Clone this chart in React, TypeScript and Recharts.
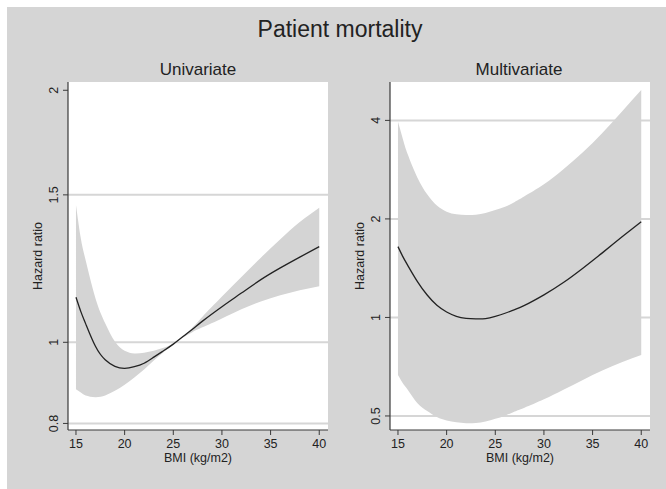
import { ComposedChart, Area, Line, XAxis, YAxis, CartesianGrid } from "recharts";

// BMI grid and hazard ratios
const bmi = [15, 15.5, 16, 17, 18, 19, 20, 21, 22, 23, 24, 25, 26, 27, 28, 30, 32, 34, 36, 38, 40];

const uniHR = [1.132, 1.088, 1.052, 0.989, 0.953, 0.936, 0.931, 0.935, 0.944, 0.96, 0.977, 0.995, 1.016, 1.037, 1.06, 1.103, 1.145, 1.188, 1.227, 1.264, 1.301];
const uniLo = [0.879, 0.871, 0.864, 0.86, 0.864, 0.875, 0.89, 0.908, 0.928, 0.951, 0.973, 0.994, 1.013, 1.029, 1.042, 1.068, 1.095, 1.119, 1.138, 1.154, 1.167];
const uniHi = [1.459, 1.33, 1.252, 1.129, 1.054, 1.002, 0.977, 0.97, 0.972, 0.977, 0.985, 0.997, 1.017, 1.042, 1.073, 1.134, 1.197, 1.262, 1.328, 1.392, 1.448];

const multiHR = [1.646, 1.534, 1.443, 1.287, 1.171, 1.089, 1.039, 1.008, 0.994, 0.99, 0.992, 1.008, 1.03, 1.057, 1.088, 1.172, 1.278, 1.414, 1.575, 1.76, 1.962];
const multiLo = [0.667, 0.629, 0.601, 0.547, 0.518, 0.496, 0.484, 0.478, 0.475, 0.476, 0.481, 0.49, 0.501, 0.516, 0.53, 0.562, 0.601, 0.644, 0.688, 0.73, 0.768];
const multiHi = [3.96, 3.509, 3.15, 2.673, 2.378, 2.196, 2.105, 2.066, 2.056, 2.06, 2.085, 2.13, 2.18, 2.253, 2.345, 2.551, 2.835, 3.195, 3.66, 4.253, 4.953];

const xTicks = [15, 20, 25, 30, 35, 40];
const uniTicks = [0.8, 1, 1.5, 2];
const uniGrid = [0.8, 1, 1.5];
const multiTicks = [0.5, 1, 2, 4];
const multiGrid = [0.5, 1, 2, 4];

const FONT = '"Liberation Sans", Arial, Helvetica, sans-serif';
const INK = "#222";
const AXIS = "#3a3a3a";
const BG = "#d5d5d5";
const BAND = "#d4d4d4";

function rows(hr: number[], lo: number[], hi: number[]) {
  return bmi.map((b, i) => ({ bmi: b, hr: hr[i], band: [lo[i], hi[i]] }));
}

const YTick = ({ x, y, payload }: any) => (
  <text
    transform={`translate(${x - 5},${y}) rotate(-90)`}
    textAnchor="middle"
    fontSize={12.5}
    fontFamily={FONT}
    fill={INK}
  >
    {String(payload.value)}
  </text>
);

const XTick = ({ x, y, payload }: any) => (
  <text x={x} y={y + 13} textAnchor="middle" fontSize={12.5} fontFamily={FONT} fill={INK}>
    {payload.value}
  </text>
);

function Panel({
  left,
  data,
  yDomain,
  yTicks,
  grid,
}: {
  left: number;
  data: { bmi: number; hr: number; band: number[] }[];
  yDomain: [number, number];
  yTicks: number[];
  grid: number[];
}) {
  return (
    <div style={{ position: "absolute", left, top: 0 }}>
      <ComposedChart width={340} height={489} data={data} margin={{ top: 82, right: 12, bottom: 29, left: 38 }}>
        <CartesianGrid fill="#fff" vertical={false} horizontalValues={grid} stroke="#d6d6d6" strokeWidth={2} />
        <XAxis
          dataKey="bmi"
          type="number"
          domain={[14.18, 40.9]}
          allowDataOverflow
          ticks={xTicks}
          height={30}
          tickSize={5}
          tickMargin={0}
          tick={<XTick />}
          axisLine={{ stroke: AXIS, strokeWidth: 1.2 }}
          tickLine={{ stroke: AXIS }}
          label={{
            value: "BMI (kg/m2)",
            content: ({ viewBox }: any) => (
              <text
                x={viewBox.x + viewBox.width / 2}
                y={viewBox.y + 32}
                textAnchor="middle"
                fontSize={12.5}
                fontFamily={FONT}
                fill={INK}
              >
                BMI (kg/m2)
              </text>
            ),
          }}
        />
        <YAxis
          type="number"
          scale="log"
          domain={yDomain}
          allowDataOverflow
          ticks={yTicks}
          width={30}
          tickSize={5}
          tickMargin={0}
          tick={<YTick />}
          axisLine={{ stroke: AXIS, strokeWidth: 1.2 }}
          tickLine={{ stroke: AXIS }}
          label={{
            value: "Hazard ratio",
            content: ({ viewBox }: any) => (
              <text
                transform={`translate(${viewBox.x + 4},${viewBox.y + viewBox.height / 2}) rotate(-90)`}
                textAnchor="middle"
                fontSize={12.5}
                fontFamily={FONT}
                fill={INK}
              >
                Hazard ratio
              </text>
            ),
          }}
        />
        <Area
          dataKey="band"
          type="natural"
          stroke="none"
          fill={BAND}
          fillOpacity={1}
          isAnimationActive={false}
        />
        <Line dataKey="hr" type="natural" stroke={INK} strokeWidth={1.3} dot={false} isAnimationActive={false} />
      </ComposedChart>
    </div>
  );
}

export default function App() {
  return (
    <div style={{ position: "absolute", left: 0, top: 0, width: 666, height: 489, background: "#fff" }}>
      <svg width={666} height={489} style={{ position: "absolute", left: 0, top: 0 }}>
        <rect x={7} y={7} width={659} height={482} fill={BG} />
        <text x={340} y={37} textAnchor="middle" fontSize={23} fontFamily={FONT} fill={INK}>
          Patient mortality
        </text>
        <text x={198} y={75} textAnchor="middle" fontSize={17} fontFamily={FONT} fill={INK}>
          Univariate
        </text>
        <text x={519} y={75} textAnchor="middle" fontSize={17} fontFamily={FONT} fill={INK}>
          Multivariate
        </text>
      </svg>
      <Panel left={0} data={rows(uniHR, uniLo, uniHi)} yDomain={[0.7857, 2.046]} yTicks={uniTicks} grid={uniGrid} />
      <Panel left={322} data={rows(multiHR, multiLo, multiHi)} yDomain={[0.453, 5.24]} yTicks={multiTicks} grid={multiGrid} />
    </div>
  );
}
